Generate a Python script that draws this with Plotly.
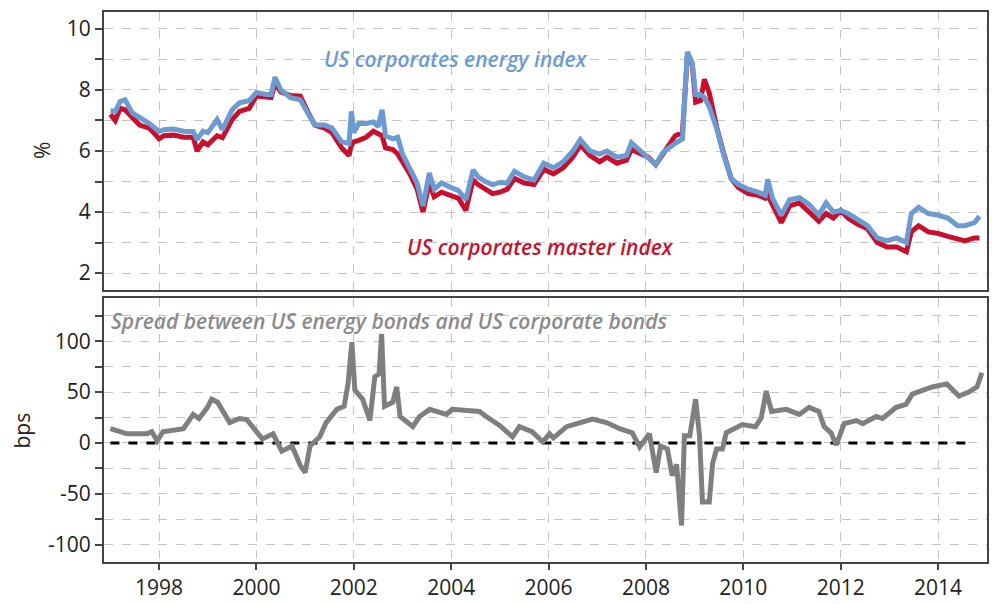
import plotly.graph_objects as go
from plotly.subplots import make_subplots

# ---- data (decimal years) ----
idx_dates = [1997.00, 1997.10, 1997.20, 1997.30, 1997.45, 1997.60, 1997.80, 1998.00, 1998.10, 1998.30,
             1998.50, 1998.70, 1998.78, 1998.90, 1999.00, 1999.19, 1999.30, 1999.50, 1999.65, 1999.85,
             2000.00, 2000.20, 2000.30, 2000.38, 2000.50, 2000.70, 2000.90, 2001.05, 2001.20, 2001.40,
             2001.55, 2001.75, 2001.90, 2001.95, 2002.00, 2002.10, 2002.25, 2002.40, 2002.50, 2002.58,
             2002.65, 2002.80, 2002.90, 2003.00, 2003.15, 2003.30, 2003.42, 2003.55, 2003.65, 2003.80,
             2004.00, 2004.15, 2004.30, 2004.45, 2004.55, 2004.70, 2004.85, 2005.00, 2005.15, 2005.30,
             2005.50, 2005.70, 2005.90, 2006.10, 2006.30, 2006.50, 2006.65, 2006.85, 2007.05, 2007.20,
             2007.40, 2007.60, 2007.70, 2007.90, 2008.05, 2008.20, 2008.35, 2008.50, 2008.60, 2008.75,
             2008.85, 2008.95, 2009.02, 2009.12, 2009.20, 2009.30, 2009.45, 2009.60, 2009.75, 2009.90,
             2010.10, 2010.30, 2010.45, 2010.50, 2010.60, 2010.78, 2010.95, 2011.15, 2011.35, 2011.55,
             2011.70, 2011.85, 2012.00, 2012.15, 2012.35, 2012.55, 2012.75, 2012.95, 2013.15, 2013.35,
             2013.45, 2013.60, 2013.80, 2014.00, 2014.20, 2014.40, 2014.55, 2014.75, 2014.85]
master_index = [7.20, 7.00, 7.40, 7.35, 7.10, 6.85, 6.75, 6.40, 6.50, 6.52,
                6.45, 6.45, 6.00, 6.30, 6.20, 6.50, 6.44, 7.03, 7.30, 7.40,
                7.80, 7.75, 7.75, 8.20, 7.94, 7.82, 7.80, 7.30, 6.85, 6.75,
                6.60, 6.10, 5.85, 6.20, 6.30, 6.35, 6.45, 6.65, 6.55, 6.50,
                6.10, 6.05, 5.90, 5.65, 5.25, 4.75, 4.00, 4.95, 4.50, 4.65,
                4.55, 4.45, 4.05, 5.05, 4.90, 4.75, 4.60, 4.65, 4.75, 5.10,
                4.95, 4.90, 5.40, 5.25, 5.45, 5.80, 6.20, 5.85, 5.65, 5.80,
                5.60, 5.70, 6.05, 5.90, 5.80, 5.55, 5.90, 6.20, 6.50, 6.60,
                9.10, 8.85, 7.60, 7.65, 8.35, 7.90, 6.80, 5.90, 5.10, 4.80,
                4.60, 4.55, 4.45, 4.55, 4.25, 3.65, 4.20, 4.30, 4.00, 3.70,
                3.95, 3.80, 4.05, 3.80, 3.60, 3.45, 3.00, 2.85, 2.85, 2.70,
                3.35, 3.55, 3.35, 3.30, 3.20, 3.10, 3.05, 3.15, 3.15]
energy_index = [7.32, 7.30, 7.62, 7.68, 7.25, 7.10, 6.90, 6.64, 6.70, 6.72,
                6.65, 6.64, 6.37, 6.65, 6.60, 7.03, 6.70, 7.35, 7.58, 7.65,
                7.92, 7.85, 7.85, 8.42, 8.00, 7.75, 7.68, 7.25, 6.85, 6.85,
                6.75, 6.30, 6.25, 7.30, 6.60, 6.90, 6.90, 6.95, 6.80, 7.35,
                6.50, 6.40, 6.45, 5.90, 5.45, 4.95, 4.20, 5.28, 4.75, 4.95,
                4.80, 4.70, 4.40, 5.38, 5.15, 5.00, 4.90, 4.97, 4.95, 5.33,
                5.15, 5.05, 5.60, 5.45, 5.65, 6.00, 6.37, 6.00, 5.90, 6.00,
                5.80, 5.85, 6.27, 6.00, 5.75, 5.55, 5.95, 6.15, 6.25, 6.40,
                9.25, 8.90, 7.85, 7.85, 7.75, 7.45, 6.75, 5.85, 5.10, 4.90,
                4.75, 4.65, 4.55, 5.07, 4.45, 3.90, 4.40, 4.47, 4.25, 3.90,
                4.30, 4.00, 4.05, 3.95, 3.75, 3.55, 3.15, 3.05, 3.15, 3.00,
                3.95, 4.15, 3.95, 3.90, 3.80, 3.55, 3.55, 3.65, 3.86]

spread_dates = [1997.00, 1997.34, 1997.75, 1997.85, 1997.96, 1998.08, 1998.50, 1998.70, 1998.82, 1998.98,
                1999.08, 1999.20, 1999.45, 1999.65, 1999.80, 2000.00, 2000.12, 2000.34, 2000.52, 2000.73,
                2000.90, 2001.00, 2001.10, 2001.30, 2001.43, 2001.65, 2001.80, 2001.88, 2001.96, 2002.02,
                2002.18, 2002.33, 2002.43, 2002.52, 2002.57, 2002.63, 2002.80, 2002.88, 2002.95, 2003.21,
                2003.35, 2003.56, 2003.90, 2004.02, 2004.58, 2004.72, 2005.00, 2005.26, 2005.40, 2005.66,
                2005.88, 2006.02, 2006.10, 2006.37, 2006.63, 2006.90, 2007.19, 2007.46, 2007.72, 2007.87,
                2008.07, 2008.21, 2008.30, 2008.44, 2008.54, 2008.63, 2008.73, 2008.79, 2008.90, 2009.02,
                2009.10, 2009.16, 2009.30, 2009.37, 2009.45, 2009.57, 2009.65, 2009.77, 2009.98, 2010.25,
                2010.37, 2010.47, 2010.58, 2010.88, 2011.15, 2011.35, 2011.55, 2011.66, 2011.80, 2011.91,
                2012.07, 2012.32, 2012.45, 2012.73, 2012.86, 2013.14, 2013.34, 2013.47, 2013.67, 2013.88,
                2014.18, 2014.43, 2014.63, 2014.80, 2014.90]
spread_bps = [14, 9, 9, 11, 2, 11, 14, 28, 24, 34,
              43, 40, 20, 24, 23, 11, 4, 9, -8, -3,
              -22, -29, -3, 6, 20, 33, 36, 58, 99, 52,
              43, 22, 65, 68, 107, 36, 40, 55, 26, 16,
              26, 33, 28, 33, 31, 26, 17, 6, 16, 11,
              1, 9, 5, 16, 20, 23.5, 20, 14, 10, -4,
              9, -29, -3, -6, -32, -21, -81, 7, 7, 43,
              7, -58, -58, -20, -6, -6, 10, 13, 18, 16,
              25, 51, 31, 33, 28, 35, 31, 16, 10, -2,
              19, 22, 19, 26, 24, 35, 38, 48, 51, 55,
              58, 46, 50, 55, 69]

zero_line_x = [1997.0, 2014.7]
zero_line_y = [0, 0]

x_ticks = [1998, 2000, 2002, 2004, 2006, 2008, 2010, 2012, 2014]
top_ticks = [2, 3, 4, 5, 6, 7, 8, 9, 10]
top_labels = ["2", "", "4", "", "6", "", "8", "", "10"]
bot_ticks = [-100, -75, -50, -25, 0, 25, 50, 75, 100, 125]
bot_labels = ["-100", "", "-50", "", "0", "", "50", "", "100", ""]

BLUE = "#6C9BD2"
RED = "#C8102E"
GRAY = "#7F7F7F"
FONT = "Open Sans"

fig = make_subplots(rows=2, cols=1, shared_xaxes=False, vertical_spacing=0.0)

fig.add_trace(go.Scatter(x=idx_dates, y=master_index, mode="lines",
                         line=dict(color=RED, width=5), showlegend=False), row=1, col=1)
fig.add_trace(go.Scatter(x=idx_dates, y=energy_index, mode="lines",
                         line=dict(color=BLUE, width=5), showlegend=False), row=1, col=1)
fig.add_trace(go.Scatter(x=zero_line_x, y=zero_line_y, mode="lines",
                         line=dict(color="black", width=3, dash="dash"), showlegend=False), row=2, col=1)
fig.add_trace(go.Scatter(x=spread_dates, y=spread_bps, mode="lines",
                         line=dict(color=GRAY, width=5), showlegend=False), row=2, col=1)

xr = [1996.868, 2015.005]
common_x = dict(range=xr, tickvals=x_ticks, showgrid=True, gridcolor="#c4c4c4", griddash="dash",
                gridwidth=1, showline=True, mirror=True, linecolor="#444", linewidth=2,
                zeroline=False)
fig.update_xaxes(**common_x, showticklabels=False, ticks="", row=1, col=1)
fig.update_xaxes(**common_x, showticklabels=True, ticks="outside", ticklen=6, tickcolor="#444",
                 tickwidth=1.5, tickfont=dict(family=FONT, size=21, color="#222"), row=2, col=1)

common_y = dict(showgrid=True, gridcolor="#c4c4c4", griddash="dash", gridwidth=1,
                showline=True, mirror=True, linecolor="#444", linewidth=2, zeroline=False,
                ticks="outside", ticklen=7, tickcolor="#444", tickwidth=1.5,
                tickfont=dict(family=FONT, size=21, color="#222"))
fig.update_yaxes(**common_y, range=[1.454, 10.556], tickvals=top_ticks, ticktext=top_labels,
                 domain=[0.4951, 1.0], row=1, col=1)
fig.update_yaxes(**common_y, range=[-116.9, 142.1], tickvals=bot_ticks, ticktext=bot_labels,
                 domain=[0.0, 0.4795], row=2, col=1)

px_to_year = lambda px: 1998 + (px - 159.5) / 48.75

fig.update_layout(
    width=992, height=604,
    margin=dict(l=104, r=3, t=12, b=40),
    paper_bgcolor="white", plot_bgcolor="white",
    annotations=[
        dict(text="US corporates energy index", x=px_to_year(457), y=9.0, xref="x", yref="y",
             xanchor="center", yanchor="middle",
             showarrow=False, font=dict(family=FONT, size=21, color=BLUE, style="italic", weight=600)),
        dict(text="US corporates master index", x=px_to_year(541), y=2.85, xref="x", yref="y",
             xanchor="center", yanchor="middle",
             showarrow=False, font=dict(family=FONT, size=21, color=RED, style="italic", weight=600)),
        dict(text="Spread between US energy bonds and US corporate bonds", x=0.006, y=0.914,
             xref="x2 domain", yref="y2 domain", xanchor="left", yanchor="middle", showarrow=False,
             font=dict(family=FONT, size=21, color="#8a8a8a", style="italic", weight=600)),
        dict(text="%", x=-0.0700, y=0.7475, xref="paper", yref="paper", textangle=-90,
             xanchor="center", yanchor="middle",
             showarrow=False, font=dict(family=FONT, size=21, color="#222")),
        dict(text="bps", x=-0.0925, y=0.2397, xref="paper", yref="paper", textangle=-90,
             xanchor="center", yanchor="middle",
             showarrow=False, font=dict(family=FONT, size=21, color="#222")),
    ],
)

fig.write_html("out.html", config={"displayModeBar": False},
               post_script="document.body.style.margin='0';document.body.style.overflow='hidden';")
